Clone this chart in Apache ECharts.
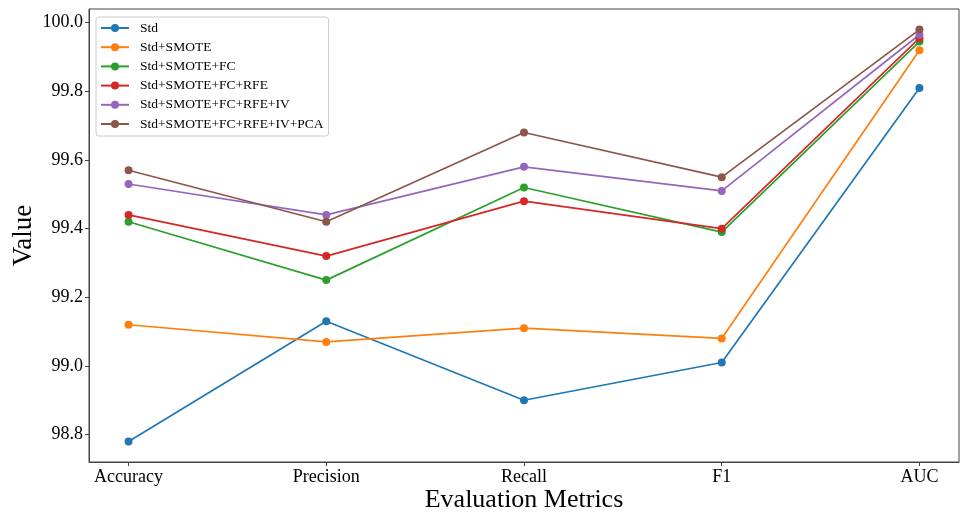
<!DOCTYPE html>
<html>
<head>
<meta charset="utf-8">
<script src="https://cdn.jsdelivr.net/npm/echarts@6/dist/echarts.min.js"></script>
<style>html,body{margin:0;padding:0;background:#fff}#c{width:960px;height:514px}</style>
</head>
<body>
<div id="c"></div>
<script>
const categories = ['Accuracy', 'Precision', 'Recall', 'F1', 'AUC'];
const yTicks = [98.8, 99.0, 99.2, 99.4, 99.6, 99.8, 100.0];
const seriesNames = ['Std', 'Std+SMOTE', 'Std+SMOTE+FC', 'Std+SMOTE+FC+RFE', 'Std+SMOTE+FC+RFE+IV', 'Std+SMOTE+FC+RFE+IV+PCA'];
const std            = [98.78, 99.13, 98.90, 99.01, 99.81];
const stdSmote       = [99.12, 99.07, 99.11, 99.08, 99.92];
const stdSmoteFc     = [99.42, 99.25, 99.52, 99.39, 99.945];
const stdSmoteFcRfe  = [99.44, 99.32, 99.48, 99.40, 99.955];
const stdSmoteFcRfeIv = [99.53, 99.44, 99.58, 99.51, 99.965];
const stdSmoteFcRfeIvPca = [99.57, 99.42, 99.68, 99.55, 99.98];
const colors = ['#1f77b4', '#ff7f0e', '#2ca02c', '#d62728', '#9467bd', '#8c564b'];

const allValues = [std, stdSmote, stdSmoteFc, stdSmoteFcRfe, stdSmoteFcRfeIv, stdSmoteFcRfeIvPca];
const FONT = '"Liberation Serif", "DejaVu Serif", serif';

const chart = echarts.init(document.getElementById('c'), null, {renderer: 'canvas'});
chart.setOption({
  animation: false,
  backgroundColor: '#fff',
  color: colors,
  textStyle: {fontFamily: FONT},
  grid: {left: 89, right: 1, top: 9, bottom: 52, show: true, borderColor: '#444', borderWidth: 1,
    containLabel: false, outerBoundsMode: 'none'},
  legend: {
    left: 96, top: 17, orient: 'vertical',
    data: seriesNames,
    itemWidth: 28, itemHeight: 10, itemGap: 5.2,
    padding: [4, 5, 5, 4],
    backgroundColor: 'rgba(255,255,255,0.85)',
    borderColor: '#cccccc', borderWidth: 1, borderRadius: 3,
    textStyle: {fontFamily: FONT, fontSize: 13.5, color: '#000', padding: [0, 0, 0, 6]}
  },
  xAxis: {
    type: 'value', min: -0.2, max: 4.2,
    name: 'Evaluation Metrics', nameLocation: 'middle', nameGap: 25, nameMoveOverlap: false,
    nameTextStyle: {fontFamily: FONT, fontSize: 26, color: '#000'},
    axisLine: {show: true, onZero: false, lineStyle: {color: '#444', width: 1}},
    axisTick: {show: true, length: 4, lineStyle: {color: '#444'}, customValues: [0, 1, 2, 3, 4]},
    axisLabel: {fontFamily: FONT, fontSize: 18, color: '#000', margin: 6, customValues: [0, 1, 2, 3, 4],
      formatter: v => categories[Math.round(v)] || ''},
    splitLine: {show: false}
  },
  yAxis: {
    type: 'value', min: 98.72, max: 100.04,
    name: 'Value', nameLocation: 'middle', nameGap: 52, nameRotate: 90, nameMoveOverlap: false,
    nameTextStyle: {fontFamily: FONT, fontSize: 27, color: '#000'},
    axisLine: {show: true, onZero: false, lineStyle: {color: '#444', width: 1}},
    axisTick: {show: true, length: 4, lineStyle: {color: '#444'}, customValues: yTicks},
    axisLabel: {fontFamily: FONT, fontSize: 18, color: '#000', margin: 6, customValues: yTicks,
      formatter: v => v.toFixed(1)},
    splitLine: {show: false}
  },
  series: seriesNames.map((n, k) => ({
    name: n, type: 'line',
    data: allValues[k].map((v, i) => [i, v]),
    symbol: 'circle', symbolSize: 8,
    lineStyle: {width: 1.7, color: colors[k]},
    itemStyle: {color: colors[k], borderWidth: 0},
    emphasis: {disabled: true}
  }))
});
</script>
</body>
</html>
